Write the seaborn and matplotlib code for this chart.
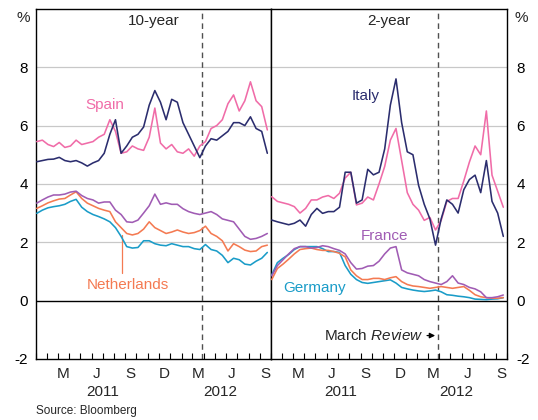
import numpy as np
import pandas as pd
import matplotlib
matplotlib.use("Agg")
import matplotlib.pyplot as plt
import matplotlib.dates as mdates
import seaborn as sns

# semi-monthly observations, Jan 2011 - Sep 2012
dates = pd.date_range("2011-01-03", "2012-09-21", periods=42)

# 10-year yields, %
italy_10y = [4.76, 4.80, 4.84, 4.85, 4.91, 4.80, 4.76, 4.80, 4.72, 4.61,
             4.72, 4.80, 5.05, 5.70, 6.20, 5.05, 5.30, 5.60, 5.70, 5.95,
             6.70, 7.20, 6.80, 6.20, 6.90, 6.80, 6.10, 5.70, 5.30, 4.90,
             5.30, 5.55, 5.50, 5.65, 5.80, 6.10, 6.10, 6.00, 6.30, 5.90,
             5.80, 5.05]
spain_10y = [5.45, 5.50, 5.35, 5.28, 5.42, 5.25, 5.30, 5.50, 5.35, 5.40,
             5.45, 5.60, 5.70, 6.20, 5.80, 5.05, 5.10, 5.30, 5.20, 5.15,
             5.60, 6.60, 5.40, 5.20, 5.35, 5.10, 5.05, 5.20, 4.95, 5.30,
             5.45, 5.90, 6.00, 6.20, 6.75, 7.05, 6.50, 6.85, 7.50, 6.85,
             6.65, 5.85]
france_10y = [3.34, 3.45, 3.55, 3.62, 3.62, 3.65, 3.72, 3.75, 3.60, 3.50,
              3.45, 3.34, 3.38, 3.38, 3.10, 2.95, 2.70, 2.68, 2.76, 3.00,
              3.25, 3.65, 3.30, 3.35, 3.30, 3.30, 3.15, 3.05, 2.99, 2.95,
              3.00, 3.05, 2.95, 2.80, 2.75, 2.70, 2.45, 2.20, 2.10, 2.13,
              2.20, 2.30]
nether_10y = [3.16, 3.25, 3.35, 3.42, 3.48, 3.50, 3.62, 3.73, 3.50, 3.34,
              3.25, 3.16, 3.10, 3.05, 2.70, 2.50, 2.30, 2.25, 2.30, 2.45,
              2.70, 2.50, 2.40, 2.30, 2.35, 2.42, 2.35, 2.30, 2.33, 2.40,
              2.55, 2.30, 2.20, 2.05, 1.70, 1.95, 1.85, 1.73, 1.68, 1.70,
              1.85, 1.90]
germany_10y = [2.99, 3.10, 3.18, 3.22, 3.25, 3.30, 3.40, 3.47, 3.20, 3.05,
               2.95, 2.88, 2.80, 2.70, 2.50, 2.20, 1.85, 1.80, 1.82, 2.05,
               2.05, 1.95, 1.90, 1.88, 1.95, 1.90, 1.85, 1.85, 1.78, 1.75,
               1.92, 1.75, 1.70, 1.55, 1.30, 1.45, 1.40, 1.25, 1.22, 1.35,
               1.45, 1.65]

# 2-year yields, %
italy_2y = [2.76, 2.70, 2.65, 2.60, 2.65, 2.76, 2.55, 2.95, 3.16, 2.99,
            3.05, 3.05, 3.20, 4.40, 4.40, 3.34, 3.45, 4.50, 4.31, 4.40,
            5.20, 6.70, 7.60, 6.10, 5.10, 5.00, 3.95, 3.30, 2.80, 1.90,
            2.80, 3.45, 3.30, 3.00, 3.80, 4.15, 4.30, 3.70, 4.80, 3.40,
            3.00, 2.20]
spain_2y = [3.56, 3.40, 3.35, 3.30, 3.22, 3.00, 3.16, 3.45, 3.45, 3.55,
            3.60, 3.50, 3.68, 4.20, 4.40, 3.28, 3.34, 3.55, 3.45, 4.00,
            4.60, 5.50, 5.90, 4.80, 3.70, 3.30, 3.10, 2.75, 2.85, 2.42,
            2.75, 3.40, 3.50, 3.50, 4.10, 4.75, 5.30, 5.00, 6.50, 4.30,
            3.75, 3.20]
france_2y = [0.85, 1.20, 1.40, 1.60, 1.78, 1.85, 1.85, 1.80, 1.82, 1.88,
             1.85, 1.78, 1.72, 1.60, 1.30, 1.08, 1.10, 1.18, 1.20, 1.35,
             1.60, 1.80, 1.85, 1.05, 0.95, 0.90, 0.85, 0.72, 0.65, 0.60,
             0.55, 0.65, 0.85, 0.60, 0.55, 0.45, 0.40, 0.30, 0.10, 0.10,
             0.13, 0.19]
nether_2y = [0.72, 1.10, 1.25, 1.42, 1.60, 1.75, 1.78, 1.80, 1.75, 1.72,
             1.72, 1.68, 1.62, 1.50, 1.05, 0.85, 0.72, 0.72, 0.76, 0.76,
             0.72, 0.78, 0.82, 0.65, 0.55, 0.50, 0.48, 0.45, 0.42, 0.45,
             0.48, 0.45, 0.42, 0.45, 0.48, 0.35, 0.20, 0.13, 0.10, 0.08,
             0.08, 0.10]
germany_2y = [0.88, 1.30, 1.45, 1.58, 1.75, 1.85, 1.85, 1.85, 1.85, 1.78,
              1.68, 1.68, 1.65, 1.20, 0.90, 0.72, 0.62, 0.59, 0.62, 0.65,
              0.68, 0.71, 0.60, 0.45, 0.40, 0.36, 0.33, 0.31, 0.33, 0.36,
              0.30, 0.20, 0.18, 0.15, 0.13, 0.10, 0.05, 0.04, 0.03, 0.05,
              0.06, 0.10]

countries = ["Germany", "Netherlands", "France", "Spain", "Italy"]
colours = {"Italy": "#2b2d6e", "Spain": "#f06ca8", "France": "#a05cb4",
           "Netherlands": "#f47a52", "Germany": "#1a9cc8"}
panel_titles = ["10-year", "2-year"]
review_date = pd.Timestamp("2012-03-28")

panels = {
    "10-year": {"Italy": italy_10y, "Spain": spain_10y, "France": france_10y,
                "Netherlands": nether_10y, "Germany": germany_10y},
    "2-year": {"Italy": italy_2y, "Spain": spain_2y, "France": france_2y,
               "Netherlands": nether_2y, "Germany": germany_2y},
}

sns.set_theme(style="white")
plt.rcParams["font.family"] = ["Liberation Sans", "DejaVu Sans"]
plt.rcParams["mathtext.fontset"] = "custom"
plt.rcParams["mathtext.rm"] = "Liberation Sans"
plt.rcParams["mathtext.it"] = "Liberation Sans:italic"
plt.rcParams["axes.unicode_minus"] = False

fig = plt.figure(figsize=(5.38, 4.2), dpi=100)
bottom, height = 0.1455, 0.8333
ax1 = fig.add_axes([36 / 538, bottom, 235 / 538, height])
ax2 = fig.add_axes([271 / 538, bottom, 236 / 538, height])

xmin, xmax = pd.Timestamp("2011-01-01"), pd.Timestamp("2012-10-01")
month_labels = [("2011-03-16", "M"), ("2011-06-15", "J"), ("2011-09-15", "S"),
                ("2011-12-16", "D"), ("2012-03-16", "M"), ("2012-06-15", "J"),
                ("2012-09-15", "S")]
year_labels = [("2011-07-02", "2011"), ("2012-05-16", "2012")]

for ax, title in zip([ax1, ax2], panel_titles):
    rows = []
    for c in countries:
        rows.append(pd.DataFrame({"date": dates, "yield": panels[title][c], "country": c}))
    df = pd.concat(rows, ignore_index=True)

    for y in [2, 4, 6, 8]:
        ax.axhline(y, color="#c8c8c8", lw=0.9, zorder=0)
    ax.axhline(0, color="black", lw=1.0, zorder=1)
    ax.axvline(review_date, color="#505050", lw=1.0, ls=(0, (4, 3)), zorder=1)

    sns.lineplot(data=df, x="date", y="yield", hue="country", palette=colours,
                 hue_order=countries, lw=1.15, legend=False, ax=ax, zorder=3)

    ax.set_xlim(xmin, xmax)
    ax.set_ylim(-2, 10)
    ax.set_xlabel("")
    ax.set_ylabel("")
    ax.set_yticks([-2, 0, 2, 4, 6, 8])
    ax.xaxis.set_major_locator(mdates.MonthLocator())
    ax.tick_params(axis="x", direction="in", length=4, width=0.8, colors="black",
                   labelbottom=False, bottom=True)
    ax.tick_params(axis="y", length=0, labelsize=11, pad=6, colors="black")
    for s in ax.spines.values():
        s.set_color("black")
        s.set_linewidth(1.0)

    ax.text(0.5, 0.985, title, transform=ax.transAxes, ha="center", va="top", fontsize=11)

    trans = ax.get_xaxis_transform()
    for d, lab in month_labels:
        ax.text(pd.Timestamp(d), -0.022, lab, transform=trans, ha="center", va="top", fontsize=11)
    for d, lab in year_labels:
        x = pd.Timestamp(d)
        if title == "2-year" and lab == "2011":
            x = pd.Timestamp("2011-07-08")
        ax.text(x, -0.075, lab, transform=trans, ha="center", va="top", fontsize=11)

ax1.tick_params(axis="y", labelleft=True, labelright=False)
ax2.tick_params(axis="y", labelleft=False, labelright=True, pad=7)
ax1.text(-0.025, 9.7, "%", transform=ax1.get_yaxis_transform(), ha="right", va="center", fontsize=11)
ax2.text(1.03, 9.7, "%", transform=ax2.get_yaxis_transform(), ha="left", va="center", fontsize=11)

# series labels
ax1.text(pd.Timestamp("2011-07-07"), 6.7, "Spain", color=colours["Spain"], ha="center", va="center", fontsize=11)
ax1.text(pd.Timestamp("2011-09-08"), 0.53, "Netherlands", color=colours["Netherlands"],
         ha="center", va="center", fontsize=11)
ax1.plot([pd.Timestamp("2011-08-22")] * 2, [2.25, 0.95], color=colours["Netherlands"], lw=0.9)
ax2.text(pd.Timestamp("2011-09-13"), 7.0, "Italy", color=colours["Italy"], ha="center", va="center", fontsize=11)
ax2.text(pd.Timestamp("2011-11-04"), 2.2, "France", color=colours["France"], ha="center", va="center", fontsize=11)
ax2.text(pd.Timestamp("2011-04-28"), 0.43, "Germany", color=colours["Germany"], ha="center", va="center", fontsize=11)

ax2.annotate("", xy=(review_date, -1.2), xytext=(pd.Timestamp("2012-02-20"), -1.2),
             arrowprops=dict(arrowstyle="-|>", color="black", lw=0.9, mutation_scale=8))
ax2.text(pd.Timestamp("2012-02-17"), -1.2, "March $\\mathit{Review}$", ha="right", va="center", fontsize=11)

fig.text(36 / 538, 1 - 411 / 420, "Source: Bloomberg", fontsize=8.5, ha="left", va="center")

fig.savefig("out.png", dpi=100)
